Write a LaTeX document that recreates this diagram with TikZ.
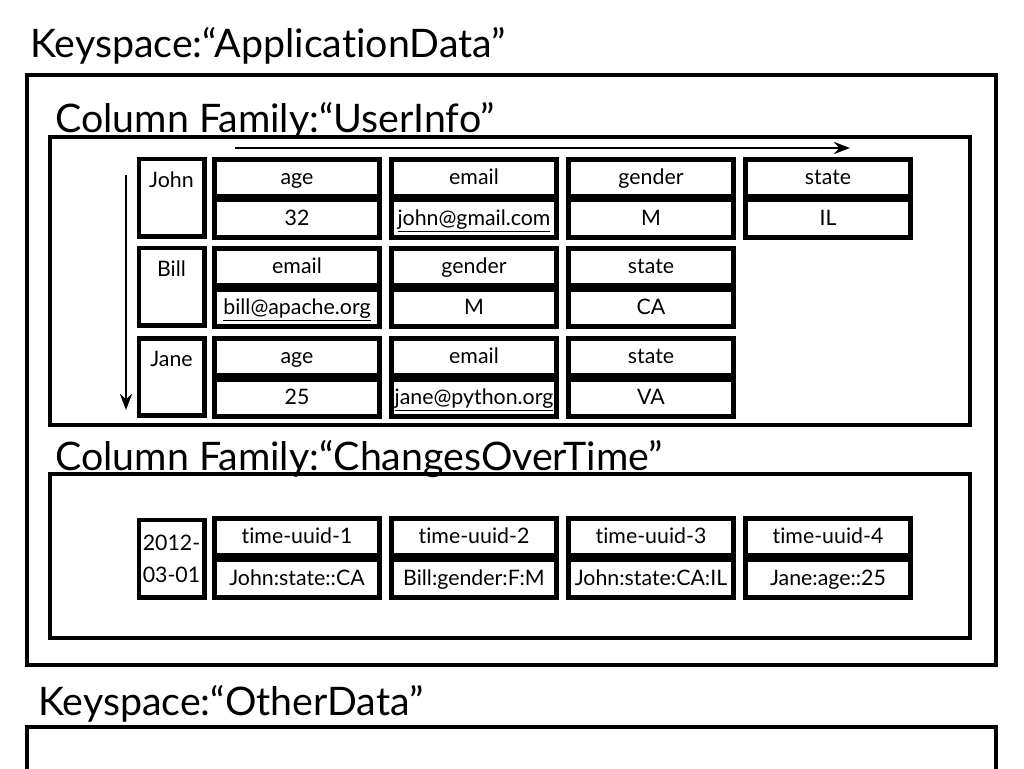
\documentclass[tikz,border=0pt]{standalone}
\usepackage{fontspec}
\setmainfont{Lato}[Ligatures={NoCommon,NoRare}]
\usetikzlibrary{arrows.meta}

\begin{document}
\begin{tikzpicture}[x=0.75pt,y=-0.75pt,
  box/.style={draw=black,line width=3.5pt,inner sep=0pt},
  cell/.style={box,minimum width=124pt,minimum height=28pt,text height=12.5pt,text depth=2.5pt,font=\fontsize{16}{19}\selectfont},
  tcell/.style={cell},
  rowkey/.style={box,minimum width=49pt,minimum height=58pt,align=center,font=\fontsize{16}{24}\selectfont},
  title/.style={anchor=base west,inner sep=0pt,font=\fontsize{29.5}{36}\selectfont},
  flow/.style={line width=2pt,-{Stealth[length=12pt,width=9pt]}}]
  \useasboundingbox (0,0) rectangle (1024,768);

  % keyspaces and column families
  \node[title] (ksapp) at (30,57) {Keyspace:“ApplicationData”};
  \node[box,minimum width=726.75pt,minimum height=442.5pt] (ksappbox) at (511.5,370) {};
  \node[title] (cfuser) at (55,132) {Column Family:“UserInfo”};
  \node[box,minimum width=690pt,minimum height=216pt] (cfuserbox) at (510,281) {};
  \node[title] (cfchange) at (55,470) {Column Family:“ChangesOverTime”};
  \node[box,minimum width=690pt,minimum height=123pt] (cfchangebox) at (510,556) {};
  \node[title] (ksother) at (38,715) {Keyspace:“OtherData”};
  \node[box,minimum width=726.75pt,minimum height=90pt] (ksotherbox) at (511.5,787) {};

  % sort order
  \coordinate (colstart) at (235,148);
  \coordinate (colend) at (850,148);
  \coordinate (rowstart) at (126,175);
  \coordinate (rowend) at (126,410);
  \draw[flow] (colstart) -- (colend);
  \draw[flow] (rowstart) -- (rowend);

  % UserInfo rows
  \node[rowkey,label={[anchor=north,yshift=-8pt,font=\fontsize{16}{19}\selectfont]north:John}] (john) at (171.5,197.5) {};
  \node[cell] (johnn1) at (297,178) {age};
  \node[cell] (johnv1) at (297,218.5) {32};
  \node[cell] (johnn2) at (474,178) {email};
  \node[cell] (johnv2) at (474,218.5) {\underline{john@gmail.com}};
  \node[cell] (johnn3) at (651,178) {gender};
  \node[cell] (johnv3) at (651,218.5) {M};
  \node[cell] (johnn4) at (828,178) {state};
  \node[cell] (johnv4) at (828,218.5) {IL};

  \node[rowkey,label={[anchor=north,yshift=-8pt,font=\fontsize{16}{19}\selectfont]north:Bill}] (bill) at (171.5,286.5) {};
  \node[cell] (billn1) at (297,267) {email};
  \node[cell] (billv1) at (297,308) {\underline{bill@apache.org}};
  \node[cell] (billn2) at (474,267) {gender};
  \node[cell] (billv2) at (474,308) {M};
  \node[cell] (billn3) at (651,267) {state};
  \node[cell] (billv3) at (651,308) {CA};

  \node[rowkey,label={[anchor=north,yshift=-8pt,font=\fontsize{16}{19}\selectfont]north:Jane}] (jane) at (171.5,377) {};
  \node[cell] (janen1) at (297,357) {age};
  \node[cell] (janev1) at (297,398) {25};
  \node[cell] (janen2) at (474,357) {email};
  \node[cell] (janev2) at (474,398) {\underline{jane@python.org}};
  \node[cell] (janen3) at (651,357) {state};
  \node[cell] (janev3) at (651,398) {VA};

  % ChangesOverTime row
  \node[rowkey] (day) at (171.5,558.5) {2012-\\03-01};
  \foreach \x/\v [count=\i] in {297/John:state::CA,474/Bill:gender:F:M,651/John:state:CA:IL,828/Jane:age::25} {
    \node[tcell] (dayn\i) at (\x,537) {time-uuid-\i};
    \node[tcell] (dayv\i) at (\x,578.5) {\v};
  }
\end{tikzpicture}
\end{document}
